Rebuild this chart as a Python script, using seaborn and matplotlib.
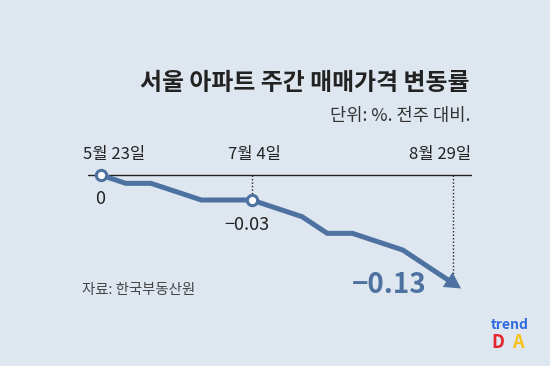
import matplotlib
matplotlib.use("Agg")
import numpy as np
import matplotlib.pyplot as plt
from matplotlib.markers import MarkerStyle
from matplotlib.path import Path
from matplotlib.transforms import Affine2D
import seaborn as sns
import pandas as pd

# weekly change of Seoul apartment sale prices (%), 2022-05-23 .. 2022-08-29
weeks = ["5/23", "5/30", "6/6", "6/13", "6/20", "6/27", "7/4", "7/11",
         "7/18", "7/25", "8/1", "8/8", "8/15", "8/22", "8/29"]
changes = [0.00, -0.01, -0.01, -0.02, -0.03, -0.03, -0.03, -0.04,
           -0.05, -0.07, -0.07, -0.08, -0.09, -0.11, -0.13]

date_labels = ["5월 23일", "7월 4일", "8월 29일"]
value_labels = ["0", "−0.03", "−0.13"]

title = "서울 아파트 주간 매매가격 변동률"
subtitle = "단위: %. 전주 대비."
source = "자료: 한국부동산원"

bg = "#dee6ef"
line_color = "#4d71a0"

sns.set_theme(style="white")
plt.rcParams["font.family"] = ["Noto Sans CJK KR", "DejaVu Sans"]

df = pd.DataFrame({"week": range(len(changes)), "change": changes, "label": weeks})
first, mid, last = 0, weeks.index("7/4"), len(weeks) - 1

fig = plt.figure(figsize=(5.5, 3.66), dpi=100, facecolor=bg)
ax = fig.add_axes([88 / 550, 66 / 366, 384 / 550, 150 / 366])
ax.set_facecolor(bg)
ax.set_xlim(-0.5, 14.75)
ax.set_ylim(-0.150, 0.030)

# baseline and dotted guides
ax.axhline(0, color="#222222", lw=1.0, zorder=1)
for i in (mid, last):
    ax.plot([i, i], [0, changes[i]], ls=(0, (1, 1.5)), color="#222222", lw=1.0, zorder=1)

sns.lineplot(data=df, x="week", y="change", color=line_color,
             lw=3.6, solid_capstyle="butt", ax=ax, zorder=3)

# arrow head: a triangle marker turned along the last segment
p0 = ax.transData.transform((last - 1, changes[last - 1]))
p1 = ax.transData.transform((last, changes[last]))
heading = np.degrees(np.arctan2(p1[1] - p0[1], p1[0] - p0[0]))
head = Path([(9, 0), (-7, 8.75), (-7, -8.75), (9, 0)],
            [Path.MOVETO, Path.LINETO, Path.LINETO, Path.CLOSEPOLY])
head_marker = MarkerStyle(head, transform=Affine2D().rotate_deg(heading))
ax.scatter([last], [changes[last]], marker=head_marker, s=170,
           color=line_color, linewidths=0, zorder=4)

sns.scatterplot(x=[first, mid], y=[changes[first], changes[mid]], s=55,
                color="white", edgecolor=line_color, linewidth=2.2, ax=ax, zorder=4)

ax.axis("off")

# date labels on top of the baseline
ax.annotate(date_labels[0], (first, 0), xytext=(-12.5, 14.5), textcoords="offset points",
            ha="left", va="center", fontsize=12, color="#222222")
ax.annotate(date_labels[1], (mid, 0), xytext=(2, 14.5), textcoords="offset points",
            ha="center", va="center", fontsize=12, color="#222222")
ax.annotate(date_labels[2], (last, 0), xytext=(13, 14.5), textcoords="offset points",
            ha="right", va="center", fontsize=12, color="#222222")

# value labels
ax.annotate(value_labels[0], (first, changes[first]), xytext=(0, -17.5),
            textcoords="offset points", ha="center", va="center",
            fontsize=13, color="#222222")
ax.annotate(value_labels[1], (mid, changes[mid]), xytext=(-3.4, -18),
            textcoords="offset points", ha="center", va="center",
            fontsize=13, color="#222222")
ax.annotate(value_labels[2], (last, changes[last]), xytext=(-46, -1),
            textcoords="offset points", ha="center", va="center",
            fontsize=20, fontweight="bold", color=line_color)

# titles and source
fig.text(470 / 550, 1 - 83 / 366, title, ha="right", va="center",
         fontsize=17.2, fontweight="bold", color="#222222")
fig.text(470 / 550, 1 - 116 / 366, subtitle, ha="right", va="center",
         fontsize=12.7, color="#333333")
fig.text(82 / 550, 1 - 290 / 366, source, ha="left", va="center",
         fontsize=10.4, color="#444444")

# logo
fig.text(510 / 550, 1 - 325 / 366, "trend", ha="center", va="center",
         fontsize=10, fontweight="bold", color="#2f6be0")
fig.text(498 / 550, 1 - 343 / 366, "D", ha="center", va="center",
         fontsize=13, fontweight="bold", color="#e3262d")
fig.text(518 / 550, 1 - 343 / 366, "A", ha="center", va="center",
         fontsize=13, fontweight="bold", color="#f6c21a")

fig.savefig("out.png", dpi=100, facecolor=bg)
